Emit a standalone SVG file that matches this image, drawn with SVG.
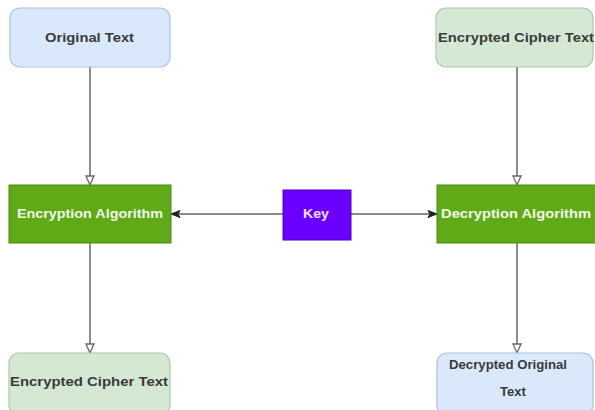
<svg xmlns="http://www.w3.org/2000/svg" width="595" height="410" viewBox="0 0 595 410">
<defs>
<style>
.blue{fill:#dae8fc;stroke:#a9c0e0;stroke-width:1.2}
.lgreen{fill:#d5e8d4;stroke:#a9c9a4;stroke-width:1.2}
.alg{fill:#60a917;stroke:#4b8a10;stroke-width:1}
.key{fill:#6a00ff;stroke:#4a00c0;stroke-width:1}
.t{font-family:"Liberation Sans",Arial,sans-serif;font-size:12px;font-weight:bold;fill:#3a3a3a;text-anchor:middle}
.tw{font-family:"Liberation Sans",Arial,sans-serif;font-size:12px;font-weight:bold;fill:#f2fbe8;text-anchor:middle}
.conn{stroke:#666;stroke-width:1.5;fill:none}
</style>
<marker id="open" markerWidth="12" markerHeight="10" refX="10" refY="5" orient="auto" markerUnits="userSpaceOnUse">
<path d="M1,1 L10,5 L1,9 Z" fill="#fff" stroke="#666" stroke-width="1.3"/>
</marker>
<marker id="fill" markerWidth="12" markerHeight="10" refX="10" refY="5" orient="auto" markerUnits="userSpaceOnUse">
<path d="M1,1.5 L10,5 L1,8.5 L3,5 Z" fill="#222" stroke="#222" stroke-width="1"/>
</marker>
</defs>
<rect width="595" height="410" fill="#fff"/>
<g id="connectors">
<line class="conn" x1="90" y1="67" x2="90" y2="185" marker-end="url(#open)"/>
<line class="conn" x1="90" y1="243" x2="90" y2="353" marker-end="url(#open)"/>
<line class="conn" x1="517" y1="67" x2="517" y2="185" marker-end="url(#open)"/>
<line class="conn" x1="517" y1="243" x2="517" y2="353" marker-end="url(#open)"/>
<line class="conn" x1="283" y1="214" x2="171" y2="214" marker-end="url(#fill)"/>
<line class="conn" x1="351" y1="214" x2="437" y2="214" marker-end="url(#fill)"/>
</g>
<g id="original-text">
<rect class="blue" x="10" y="8" width="160" height="59" rx="10"/>
<text class="t" x="89.5" y="42" textLength="89" lengthAdjust="spacingAndGlyphs">Original Text</text>
</g>
<g id="encrypted-cipher-top">
<rect class="lgreen" x="436" y="8" width="157" height="59" rx="10"/>
<text class="t" x="516" y="42" textLength="156" lengthAdjust="spacingAndGlyphs">Encrypted Cipher Text</text>
</g>
<g id="encryption-algorithm">
<rect class="alg" x="9" y="185" width="162" height="58"/>
<text class="tw" x="90" y="218" textLength="146" lengthAdjust="spacingAndGlyphs">Encryption Algorithm</text>
</g>
<g id="key">
<rect class="key" x="283" y="190" width="68" height="50"/>
<text class="tw" x="316" y="218" textLength="26" lengthAdjust="spacingAndGlyphs" style="fill:#f0e0ff">Key</text>
</g>
<g id="decryption-algorithm">
<rect class="alg" x="437" y="185" width="160" height="58"/>
<text class="tw" x="516" y="218" textLength="150" lengthAdjust="spacingAndGlyphs">Decryption Algorithm</text>
</g>
<g id="encrypted-cipher-bottom">
<rect class="lgreen" x="9" y="353" width="161" height="62" rx="10"/>
<text class="t" x="89" y="386" textLength="158" lengthAdjust="spacingAndGlyphs">Encrypted Cipher Text</text>
</g>
<g id="decrypted-original">
<rect class="blue" x="437" y="353" width="156" height="62" rx="10"/>
<text class="t" x="508" y="369" textLength="118" lengthAdjust="spacingAndGlyphs">Decrypted Original</text>
<text class="t" x="513" y="396" textLength="26" lengthAdjust="spacingAndGlyphs">Text</text>
</g>
</svg>
